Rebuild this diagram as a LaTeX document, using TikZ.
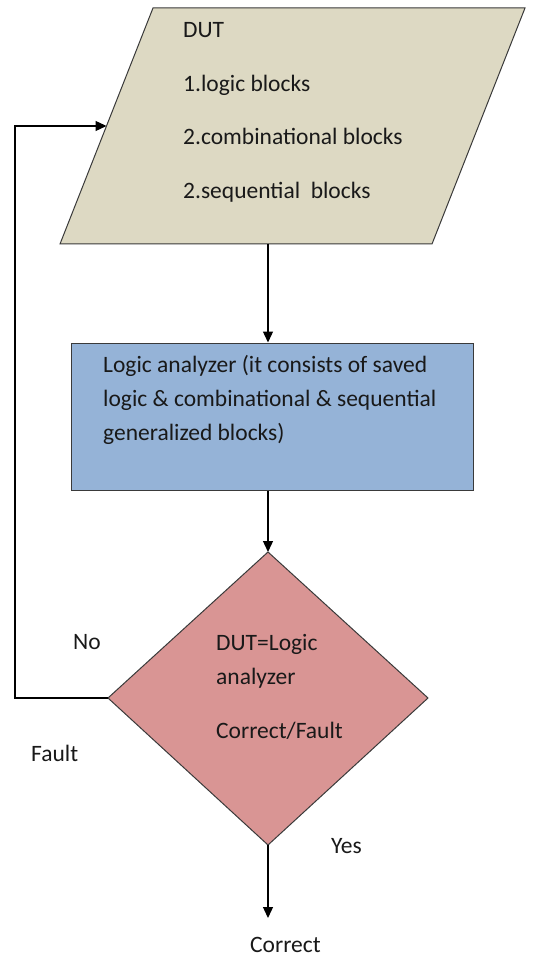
\documentclass[tikz,border=0pt]{standalone}
\usepackage{fontspec}
\setmainfont{Carlito}
\usetikzlibrary{arrows.meta}
\definecolor{inputfill}{HTML}{DDD9C3}
\definecolor{procfill}{HTML}{95B3D7}
\definecolor{decfill}{HTML}{D99594}
\definecolor{edgegray}{HTML}{3A3A3A}
\tikzset{
  shapeline/.style={draw=edgegray, line width=1pt},
  flow/.style={draw=black, line width=1.3pt, -{Triangle[width=10pt,length=11pt]}},
  txt/.style={anchor=base west, inner sep=0pt, font=\fontsize{23.5}{28}\selectfont, text=black!90}
}
\begin{document}
\begin{tikzpicture}[x=1pt,y=-1pt]
\useasboundingbox (0,0) rectangle (541,957);

% input parallelogram (DUT)
\coordinate (p1) at (153,8);
\coordinate (p2) at (525,8);
\coordinate (p3) at (432,244);
\coordinate (p4) at (60,244);
\coordinate (dutin) at (106.5,126);
\coordinate (dutout) at (268,244);
\fill[inputfill] (p1) -- (p2) -- (p3) -- (p4) -- cycle;
\draw[shapeline] (p1) -- (p2) -- (p3) -- (p4) -- cycle;
\node[txt] (t1) at (183,38) {DUT};
\node[txt] (t2) at (183,92) {1.logic blocks};
\node[txt] (t3) at (183,145) {2.combinational blocks};
\node[txt] (t4) at (183,199) {2.sequential\ \ blocks};

% logic analyzer process box
\node[shapeline, fill=procfill, rectangle, minimum width=402pt, minimum height=147pt, inner sep=0pt] (box) at (272,416.5) {};
\node[txt] (b1) at (103,372) {Logic analyzer (it consists of saved};
\node[txt] (b2) at (103,406) {logic \& combinational \& sequential};
\node[txt] (b3) at (103,440) {generalized blocks)};

% decision diamond
\coordinate (dtop) at (268,552);
\coordinate (dleft) at (108,698);
\coordinate (dright) at (428,698);
\coordinate (dbot) at (268,845);
\fill[decfill] (dtop) -- (dright) -- (dbot) -- (dleft) -- cycle;
\draw[shapeline] (dtop) -- (dright) -- (dbot) -- (dleft) -- cycle;
\node[txt] (d1) at (216,650) {DUT=Logic};
\node[txt] (d2) at (216,684) {analyzer};
\node[txt] (d3) at (216,738) {Correct/Fault};

% labels
\node[txt] (no) at (73,649) {No};
\node[txt] (fault) at (31,761) {Fault};
\node[txt] (yes) at (331,853) {Yes};
\node[txt] (correct) at (250,952) {Correct};
\coordinate (end) at (268,918);
\coordinate (loopA) at (15,698);
\coordinate (loopB) at (15,126);

% connectors
\draw[flow] (dutout) -- (box.north -| dutout);
\draw[flow] (box.south -| dtop) -- (dtop);
\draw[flow] (dbot) -- (end);
\draw[flow] (dleft) -- (loopA) -- (loopB) -- (dutin);
\end{tikzpicture}
\end{document}
